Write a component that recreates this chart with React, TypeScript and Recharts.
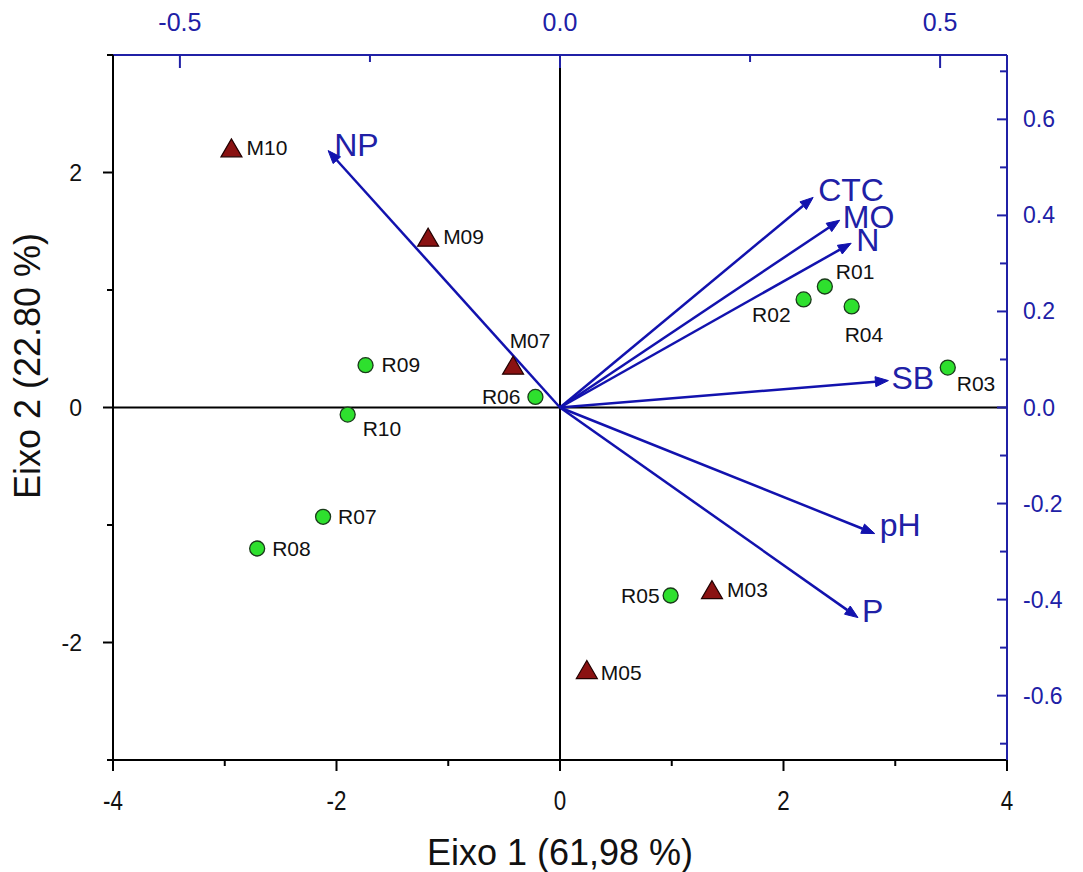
import React from 'react';
import { ScatterChart, Scatter, XAxis, YAxis, ReferenceLine, Label } from 'recharts';

// ---- data ----
const rSites = ['R01', 'R02', 'R03', 'R04', 'R05', 'R06', 'R07', 'R08', 'R09', 'R10'];
const rEixo1 = [2.37, 2.18, 3.47, 2.61, 0.99, -0.22, -2.12, -2.71, -1.74, -1.9];
const rEixo2 = [1.03, 0.92, 0.34, 0.86, -1.6, 0.09, -0.93, -1.2, 0.36, -0.06];

const mSites = ['M03', 'M05', 'M07', 'M09', 'M10'];
const mEixo1 = [1.36, 0.24, -0.42, -1.18, -2.94];
const mEixo2 = [-1.55, -2.23, 0.36, 1.45, 2.21];

const varNames = ['NP', 'CTC', 'MO', 'N', 'SB', 'pH', 'P'];
const varLoad1 = [-0.305, 0.333, 0.368, 0.383, 0.432, 0.414, 0.392];
const varLoad2 = [0.535, 0.4375, 0.39, 0.342, 0.056, -0.2625, -0.4375];

const bottomTicks = [-4, -3, -2, -1, 0, 1, 2, 3, 4];
const leftTicks = [-3, -2, -1, 0, 1, 2, 3];
const topTicks = [-0.5, -0.25, 0, 0.25, 0.5];
const rightTicks = [-0.7, -0.6, -0.5, -0.4, -0.3, -0.2, -0.1, 0, 0.1, 0.2, 0.3, 0.4, 0.5, 0.6, 0.7];

// ---- styles ----
const FONT = '"Liberation Sans", Arial, sans-serif';
const BLUE = '#2020a6';
const ARROW = '#1212ae';
const GREEN = '#2ee02e';
const RED = '#8a1212';

// label placement: [dx, dy(baseline offset from centre), anchor]
const siteLabelPos: Record<string, [number, number, string]> = {
  M10: [15, 7, 'start'],
  M09: [15, 7, 'start'],
  M07: [17, -17, 'middle'],
  R09: [16, 7, 'start'],
  R06: [-15, 7, 'end'],
  R10: [15, 21, 'start'],
  R07: [15, 7, 'start'],
  R08: [15, 7, 'start'],
  R05: [-11, 7, 'end'],
  M03: [15, 7, 'start'],
  M05: [14, 10, 'start'],
  R02: [-13, 23, 'end'],
  R01: [11, -7, 'start'],
  R04: [-7, 36, 'start'],
  R03: [9, 23, 'start'],
};

const varLabelPos: Record<string, [number, number]> = {
  NP: [6, 5],
  CTC: [5, 4],
  MO: [3, 8],
  N: [5, 8],
  SB: [3, 8],
  pH: [5, 2],
  P: [4, 4],
};

const rData = rSites.map((name, i) => ({ name, x: rEixo1[i], y: rEixo2[i] }));
const mData = mSites.map((name, i) => ({ name, x: mEixo1[i], y: mEixo2[i] }));

const SiteLabel = ({ cx, cy, name }: any) => {
  const p = siteLabelPos[name] || [14, 7, 'start'];
  return (
    <text x={cx + p[0]} y={cy + p[1]} textAnchor={p[2] as any} fontSize={21} fontFamily={FONT} fill="#111">
      {name}
    </text>
  );
};

const CircleShape = (props: any) => {
  const { cx, cy, payload } = props;
  return (
    <g>
      <circle cx={cx} cy={cy} r={7.5} fill={GREEN} stroke="#1a3a1a" strokeWidth={1.3} />
      <SiteLabel cx={cx} cy={cy} name={payload.name} />
    </g>
  );
};

const TriangleShape = (props: any) => {
  const { cx, cy, payload } = props;
  const pts = `${cx},${cy - 9} ${cx - 10.5},${cy + 9} ${cx + 10.5},${cy + 9}`;
  return (
    <g>
      <polygon points={pts} fill={RED} stroke="#200" strokeWidth={1.2} />
      <SiteLabel cx={cx} cy={cy} name={payload.name} />
    </g>
  );
};

const makeArrowShape = (name: string) => (props: any) => {
  const { x1, y1, x2, y2 } = props;
  const ang = Math.atan2(y2 - y1, x2 - x1);
  const L = 13;
  const W = 5;
  const bx = x2 - L * Math.cos(ang);
  const by = y2 - L * Math.sin(ang);
  const nx = -Math.sin(ang);
  const ny = Math.cos(ang);
  const head = `${x2},${y2} ${bx + W * nx},${by + W * ny} ${bx - W * nx},${by - W * ny}`;
  const lp = varLabelPos[name] || [5, 5];
  return (
    <g>
      <line x1={x1} y1={y1} x2={bx} y2={by} stroke={ARROW} strokeWidth={2.5} />
      <polygon points={head} fill={ARROW} stroke={ARROW} strokeWidth={1} />
      <text x={x2 + lp[0]} y={y2 + lp[1]} fontSize={32} fontFamily={FONT} fill={BLUE}>
        {name}
      </text>
    </g>
  );
};

const BottomTick = (props: any) => {
  const { x, y, payload } = props;
  const v = payload.value;
  const major = Math.abs(v) % 2 === 0;
  return (
    <g>
      <line x1={x} y1={y} x2={x} y2={y + (major ? 11 : 6)} stroke="#000" strokeWidth={2} />
      {major && (
        <text
          x={0}
          y={0}
          transform={`translate(${x},${y + 50}) scale(0.8,1)`}
          textAnchor="middle"
          fontSize={28}
          fontFamily={FONT}
          fill="#111"
        >
          {v}
        </text>
      )}
    </g>
  );
};

const LeftTick = (props: any) => {
  const { x, y, payload } = props;
  const v = payload.value;
  const major = Math.abs(v) % 2 === 0;
  return (
    <g>
      <line x1={x - (major ? 10 : 6)} y1={y} x2={x} y2={y} stroke="#000" strokeWidth={2} />
      {major && (
        <text x={x - 31} y={y + 8} textAnchor="end" fontSize={23} fontFamily={FONT} fill="#111">
          {v}
        </text>
      )}
    </g>
  );
};

const TopTick = (props: any) => {
  const { x, y, payload } = props;
  const v = payload.value;
  const major = Math.round(v * 100) % 50 === 0;
  return (
    <g>
      <line x1={x} y1={y} x2={x} y2={y + (major ? 13 : 7)} stroke={BLUE} strokeWidth={2} />
      {major && (
        <text x={x} y={y - 24} textAnchor="middle" fontSize={25} fontFamily={FONT} fill={BLUE}>
          {v.toFixed(1)}
        </text>
      )}
    </g>
  );
};

const RightTick = (props: any) => {
  const { x, y, payload } = props;
  const v = payload.value;
  const major = Math.round(v * 10) % 2 === 0;
  return (
    <g>
      <line x1={x - (major ? 10 : 7)} y1={y} x2={x} y2={y} stroke={BLUE} strokeWidth={2} />
      {major && (
        <text x={x + 16} y={y + 8} textAnchor="start" fontSize={23} fontFamily={FONT} fill={BLUE}>
          {v.toFixed(1)}
        </text>
      )}
    </g>
  );
};

const BottomTitle = (props: any) => {
  const { viewBox } = props;
  return (
    <text x={viewBox.x + viewBox.width / 2} y={857} textAnchor="middle" fontSize={36} fontFamily={FONT} fill="#111">
      Eixo 1 (61,98 %)
    </text>
  );
};

const LeftTitle = () => (
  <text x={32} y={358} transform="rotate(-90 32 358)" textAnchor="middle" fontSize={36} fontFamily={FONT} fill="#111">
    Eixo 2 (22.80 %)
  </text>
);

export default function App() {
  return (
    <div style={{ width: 1067, height: 864, background: '#fff' }}>
      <ScatterChart width={1067} height={864} margin={{ top: 0, right: 0, bottom: 0, left: 0 }}>
        <XAxis
          xAxisId="bottom"
          type="number"
          dataKey="x"
          orientation="bottom"
          domain={[-4, 4]}
          ticks={bottomTicks}
          interval={0}
          height={112}
          tickSize={0}
          tickMargin={0}
          tick={<BottomTick />}
          axisLine={{ stroke: '#000', strokeWidth: 2 }}
          allowDataOverflow
        >
          <Label content={<BottomTitle />} />
        </XAxis>
        <XAxis
          xAxisId="top"
          type="number"
          dataKey="x"
          orientation="top"
          domain={[-0.588, 0.588]}
          ticks={topTicks}
          interval={0}
          height={47}
          tickSize={0}
          tickMargin={0}
          tick={<TopTick />}
          axisLine={{ stroke: BLUE, strokeWidth: 2 }}
          allowDataOverflow
        />
        <YAxis
          yAxisId="left"
          type="number"
          dataKey="y"
          domain={[-3, 3]}
          ticks={leftTicks}
          interval={0}
          width={105}
          tickSize={0}
          tickMargin={0}
          tick={<LeftTick />}
          axisLine={{ stroke: '#000', strokeWidth: 2 }}
          allowDataOverflow
        >
          <Label content={<LeftTitle />} />
        </YAxis>
        <YAxis
          yAxisId="right"
          type="number"
          dataKey="y"
          orientation="right"
          domain={[-0.734, 0.734]}
          ticks={rightTicks}
          interval={0}
          width={68}
          tickSize={0}
          tickMargin={0}
          tick={<RightTick />}
          axisLine={{ stroke: BLUE, strokeWidth: 2 }}
          allowDataOverflow
        />
        <ReferenceLine xAxisId="bottom" yAxisId="left" x={0} stroke="#000" strokeWidth={2} />
        <ReferenceLine xAxisId="bottom" yAxisId="left" y={0} stroke="#000" strokeWidth={2} />
        {varNames.map((name, i) => (
          <ReferenceLine
            key={name}
            xAxisId="top"
            yAxisId="right"
            segment={[
              { x: 0, y: 0 },
              { x: varLoad1[i], y: varLoad2[i] },
            ]}
            shape={makeArrowShape(name)}
          />
        ))}
        <Scatter
          name="R"
          data={rData}
          xAxisId="bottom"
          yAxisId="left"
          shape={<CircleShape />}
          isAnimationActive={false}
        />
        <Scatter
          name="M"
          data={mData}
          xAxisId="bottom"
          yAxisId="left"
          shape={<TriangleShape />}
          isAnimationActive={false}
        />
      </ScatterChart>
    </div>
  );
}
